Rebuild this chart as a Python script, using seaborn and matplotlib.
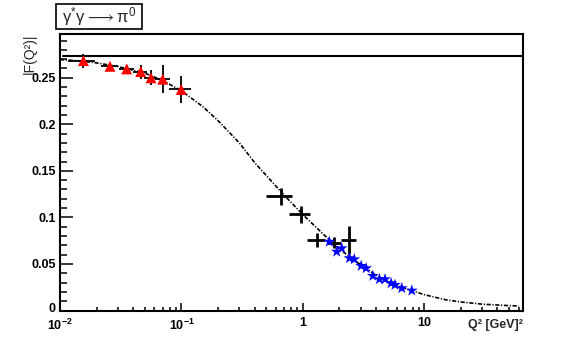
import matplotlib
matplotlib.use("Agg")
import matplotlib.pyplot as plt
import matplotlib.transforms as mtransforms
import numpy as np
import pandas as pd
import seaborn as sns
from matplotlib.patches import Rectangle
from matplotlib.ticker import FixedLocator, LogLocator, MultipleLocator, NullFormatter


OUT_PATH = "out.png"

# low-Q2 data (red triangles)
RED_Q2 = [0.0156, 0.0258, 0.0354, 0.0462, 0.0562, 0.0701, 0.0996]
RED_F = [0.2684, 0.2623, 0.2595, 0.2566, 0.2499, 0.2484, 0.2374]
RED_Q2_ERR = [0.004, 0.004, 0.005, 0.006, 0.007, 0.010, 0.020]
RED_F_ERR = [0.0075, 0.003, 0.004, 0.0075, 0.008, 0.015, 0.015]

# intermediate data (black crosses)
BLACK_Q2 = [0.658, 0.961, 1.30, 1.82, 2.39]
BLACK_F = [0.1228, 0.1032, 0.0757, 0.0728, 0.0757]
BLACK_Q2_ERR = [0.16, 0.19, 0.22, 0.25, 0.33]
BLACK_F_ERR = [0.009, 0.009, 0.008, 0.006, 0.015]

# high-Q2 data (blue stars)
BLUE_Q2 = [1.65, 1.90, 2.09, 2.42, 2.65, 3.02, 3.32, 3.77, 4.27, 4.75, 5.33, 5.74, 6.53, 7.89]
BLUE_F = [0.0739, 0.0632, 0.0668, 0.0562, 0.0550, 0.0479, 0.0454, 0.0372, 0.0336, 0.0336,
          0.0293, 0.0275, 0.0240, 0.0214]

# dash-dotted model curve
CURVE_Q2 = [0.01, 0.015, 0.02, 0.03, 0.05, 0.07, 0.1, 0.15, 0.2, 0.3, 0.4, 0.5, 0.7,
            1.0, 1.5, 2.0, 3.0, 4.0, 5.0, 7.0, 10.0, 15.0, 20.0, 30.0, 45.0, 60.0]
CURVE_F = [0.2695, 0.268, 0.266, 0.262, 0.255, 0.247, 0.236, 0.219, 0.204, 0.180, 0.159,
           0.145, 0.124, 0.103, 0.081, 0.066, 0.049, 0.038, 0.031, 0.0235, 0.017, 0.0115,
           0.0092, 0.0068, 0.0055, 0.0048]

# solid horizontal reference (Q2 -> 0 limit)
LIMIT_Q2 = [0.0106, 65.0]
LIMIT_F = [0.2739, 0.2739]

X_TICKS = [0.01, 0.1, 1, 10]
X_TICK_LABELS = [r"$10^{-2}$", r"$10^{-1}$", "1", "10"]
Y_TICKS = [0, 0.05, 0.1, 0.15, 0.2, 0.25]
Y_TICK_LABELS = ["0", "0.05", "0.1", "0.15", "0.2", "0.25"]

X_LIM = (0.01, 65.0)
Y_LIM = (0, 0.297)


def draw(ax):
    curve = pd.DataFrame({"Q2": CURVE_Q2, "F": CURVE_F})
    sns.lineplot(data=curve, x="Q2", y="F", ax=ax, color="black", linewidth=1.2,
                 linestyle=(0, (2.5, 1.0, 0.7, 1.0)), zorder=2)
    sns.lineplot(x=LIMIT_Q2, y=LIMIT_F, ax=ax, color="black", linewidth=1.5, zorder=2)

    ax.errorbar(RED_Q2, RED_F, xerr=RED_Q2_ERR, yerr=RED_F_ERR, fmt="none",
                ecolor="black", elinewidth=1.3, capsize=0, zorder=3)
    ax.errorbar(BLACK_Q2, BLACK_F, xerr=BLACK_Q2_ERR, yerr=BLACK_F_ERR, fmt="none",
                ecolor="black", elinewidth=2.0, capsize=0, zorder=3)

    sns.scatterplot(x=RED_Q2, y=RED_F, ax=ax, marker="^", s=62, color="#ff0000",
                    edgecolor="none", zorder=4)
    sns.scatterplot(x=BLUE_Q2, y=BLUE_F, ax=ax, marker="*", s=80, color="#0000ff",
                    edgecolor="none", zorder=4)


def style_axes(ax, fig):
    ax.set_xscale("log")
    ax.set_xlim(*X_LIM)
    ax.set_ylim(*Y_LIM)

    ax.xaxis.set_major_locator(FixedLocator(X_TICKS))
    ax.set_xticklabels(X_TICK_LABELS)
    ax.xaxis.set_minor_locator(LogLocator(base=10, subs=np.arange(2, 10)))
    ax.xaxis.set_minor_formatter(NullFormatter())
    ax.yaxis.set_major_locator(FixedLocator(Y_TICKS))
    ax.set_yticklabels(Y_TICK_LABELS)
    ax.yaxis.set_minor_locator(MultipleLocator(0.01))

    ax.tick_params(axis="both", which="both", direction="in", top=False, right=False,
                   width=1.1, colors="black", labelsize=9)
    ax.tick_params(axis="y", which="major", length=9.4, pad=3)
    ax.tick_params(axis="y", which="minor", length=4.8)
    ax.tick_params(axis="x", which="major", length=5.5, pad=5)
    ax.tick_params(axis="x", which="minor", length=2.7)
    for label in ax.get_xticklabels() + ax.get_yticklabels():
        label.set_fontweight("bold")

    # lift the "0" label a little so it clears the 10^-2 label below it
    zero_label = ax.get_yticklabels()[0]
    zero_label.set_transform(zero_label.get_transform()
                             + mtransforms.ScaledTranslation(0, 2.5 / 72, fig.dpi_scale_trans))

    for spine in ax.spines.values():
        spine.set_visible(True)
        spine.set_linewidth(1.5)
        spine.set_color("black")

    ax.set_xlabel("Q² [GeV]²", fontsize=9, fontweight="bold", ha="right", va="top")
    ax.xaxis.set_label_coords(1.0, -0.031)
    ax.set_ylabel("|F(Q²)|", fontsize=10, loc="top")
    ax.yaxis.set_label_coords(-0.05, 1.0)


def main():
    sns.set_theme(style="ticks")
    plt.rcParams["font.family"] = ["Liberation Sans", "DejaVu Sans"]
    plt.rcParams["mathtext.default"] = "regular"

    fig = plt.figure(figsize=(5.81, 3.44), dpi=100)
    ax = fig.add_axes([60 / 581, 1 - 310.5 / 344, 463 / 581, 276.5 / 344])
    draw(ax)
    style_axes(ax, fig)

    # title box in the top-left corner
    fig.patches.append(Rectangle((56 / 581, 1 - 29 / 344), 85.7 / 581, 25 / 344,
                                 transform=fig.transFigure, fill=False,
                                 edgecolor="black", linewidth=1.2))
    fig.text(99 / 581, 1 - 17 / 344, r"$\gamma^{*}\gamma\longrightarrow\pi^{0}$",
             ha="center", va="center", fontsize=12,
             math_fontfamily="dejavusans")

    fig.savefig(OUT_PATH, dpi=100)
    plt.close(fig)


if __name__ == "__main__":
    main()
